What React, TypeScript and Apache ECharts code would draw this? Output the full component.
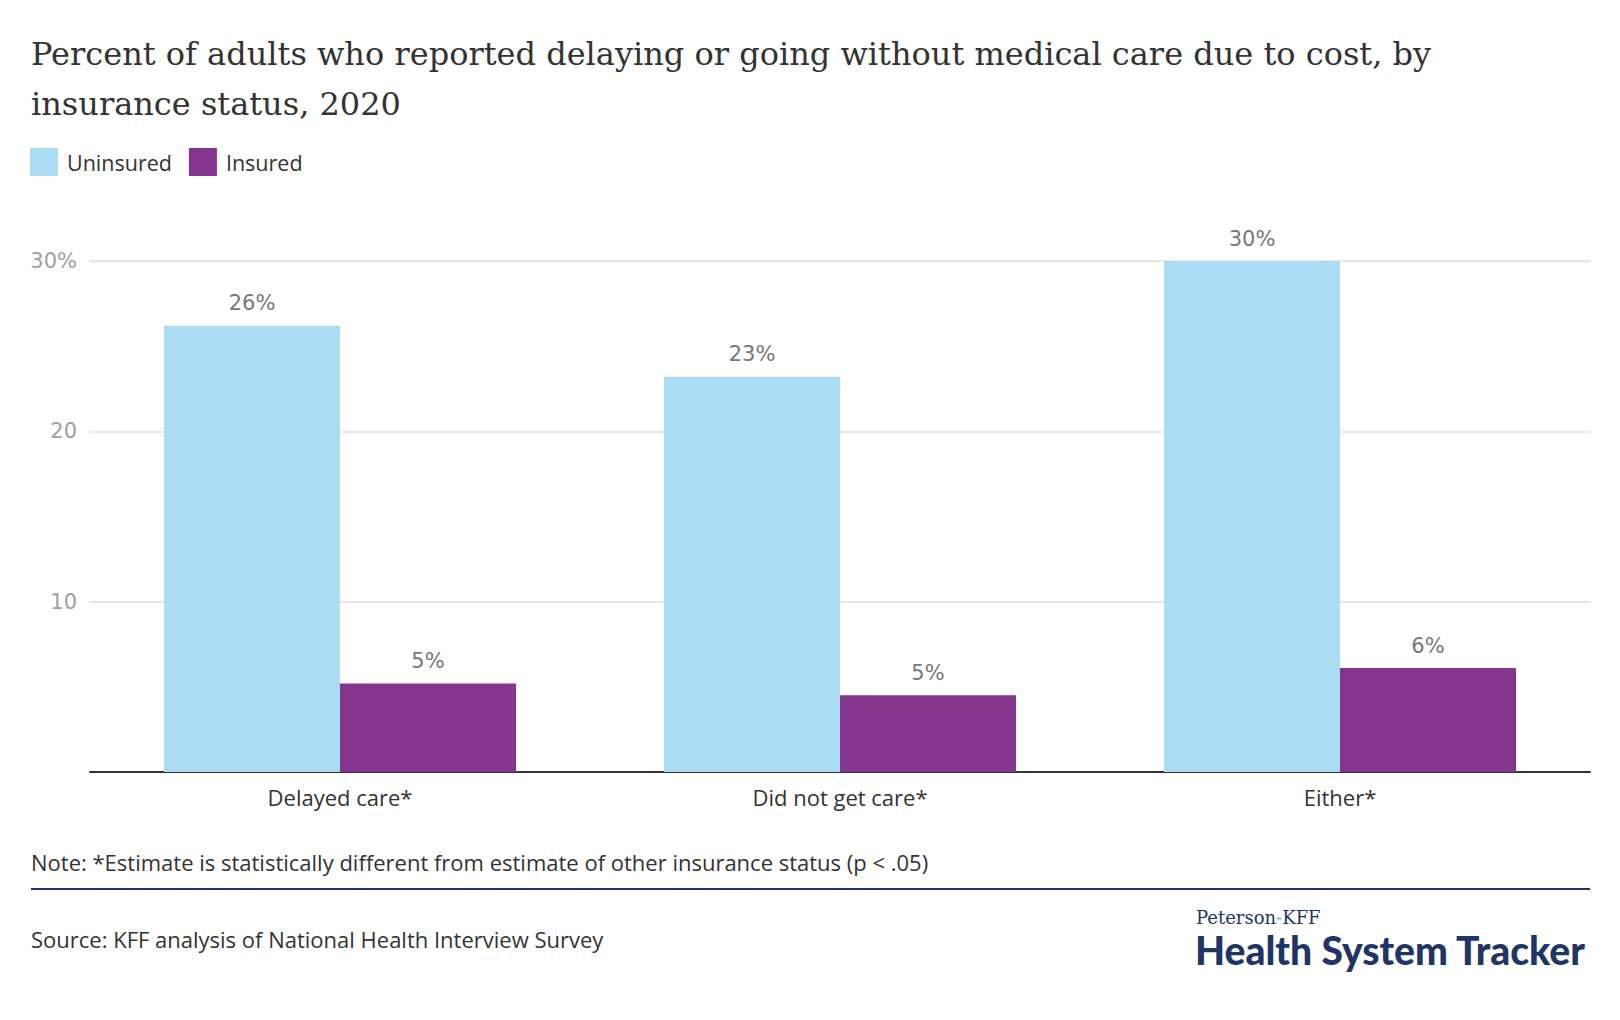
import React, { useEffect, useRef } from "react";
import * as echarts from "echarts";

const categories = ["Delayed care*", "Did not get care*", "Either*"];
const seriesNames = ["Uninsured", "Insured"];
const uninsured = [26.2, 23.2, 30.0];
const insured = [5.2, 4.5, 6.1];
const yTicks = [0, 10, 20, 30];

const titleText =
  "Percent of adults who reported delaying or going without medical care due to cost, by\ninsurance status, 2020";
const noteText =
  "Note: *Estimate is statistically different from estimate of other insurance status (p < .05)";
const sourceText = "Source: KFF analysis of National Health Interview Survey";

const BLUE = "#abdcf4";
const PURPLE = "#84368f";
const NAVY = "#1f3566";

export default function App() {
  const ref = useRef<HTMLDivElement>(null);

  useEffect(() => {
    if (!ref.current) return;
    const chart = echarts.init(ref.current, null, { renderer: "svg" });
    const sans = "'Open Sans', Lato, sans-serif";
    const wide = "'DejaVu Sans', 'Open Sans', sans-serif";
    const labelStyle = {
      show: true,
      position: "top" as const,
      distance: 12,
      color: "#777777",
      fontSize: 21,
      fontFamily: wide,
      formatter: (p: any) => Math.round(p.value) + "%",
    };
    chart.setOption({
      animation: false,
      backgroundColor: "#ffffff",
      title: {
        text: titleText,
        left: 26,
        top: 24,
        textStyle: {
          fontFamily: "'DejaVu Serif', serif",
          fontSize: 32,
          fontWeight: "normal",
          color: "#333333",
          lineHeight: 50,
        },
      },
      legend: {
        data: seriesNames,
        left: 25,
        top: 143,
        icon: "rect",
        itemWidth: 28,
        itemHeight: 28,
        itemGap: 17,
        textStyle: {
          fontFamily: sans,
          fontSize: 21.5,
          color: "#333333",
          padding: [0, 0, 0, 4],
        },
      },
      grid: { left: 90, right: 30, top: 261, bottom: 248, containLabel: false },
      xAxis: {
        type: "category",
        data: categories,
        axisLine: { show: true, lineStyle: { color: "#333333", width: 2 } },
        axisTick: { show: false },
        axisLabel: {
          margin: 14,
          fontFamily: sans,
          fontSize: 22,
          color: "#333333",
        },
      },
      yAxis: {
        type: "value",
        min: yTicks[0],
        max: yTicks[yTicks.length - 1],
        interval: 10,
        axisLine: { show: false },
        axisTick: { show: false },
        splitLine: { lineStyle: { color: "#e6e6e6", width: 2 } },
        axisLabel: {
          margin: 13,
          fontFamily: wide,
          fontSize: 21,
          color: "#a0a0a0",
          formatter: (v: number) =>
            v === 0 ? "" : v === yTicks[yTicks.length - 1] ? v + "%" : String(v),
        },
      },
      series: [
        {
          name: seriesNames[0],
          type: "bar",
          data: uninsured,
          barWidth: "35.2%",
          barGap: "0%",
          itemStyle: { color: BLUE },
          label: labelStyle,
        },
        {
          name: seriesNames[1],
          type: "bar",
          data: insured,
          barWidth: "35.2%",
          barGap: "0%",
          itemStyle: { color: PURPLE },
          label: labelStyle,
        },
      ],
      graphic: [
        {
          type: "text",
          left: 31,
          top: 851,
          style: {
            text: noteText,
            fontFamily: sans,
            fontSize: 22,
            fill: "#333333",
          },
        },
        {
          type: "line",
          shape: { x1: 31, y1: 889, x2: 1590, y2: 889 },
          style: { stroke: NAVY, lineWidth: 2 },
        },
        {
          type: "text",
          left: 31,
          top: 928,
          style: {
            text: sourceText,
            fontFamily: sans,
            fontSize: 22,
            fill: "#333333",
          },
        },
        {
          type: "text",
          left: 1196,
          top: 908,
          style: {
            text: "{a|Peterson}{g|-}{a|KFF}",
            rich: {
              a: { fontFamily: "'DejaVu Serif', serif", fontSize: 18, fill: NAVY, color: NAVY },
              g: { fontFamily: "'DejaVu Serif', serif", fontSize: 18, fill: "#5cb85c", color: "#5cb85c" },
            },
          },
        },
        {
          type: "text",
          left: 1195,
          top: 930,
          style: {
            text: "Health System Tracker",
            fontFamily: "Lato, sans-serif",
            fontSize: 39,
            fontWeight: 900,
            fill: NAVY,
          },
        },
      ],
    });
    return () => chart.dispose();
  }, []);

  return (
    <div
      ref={ref}
      style={{ position: "fixed", left: 0, top: 0, width: 1620, height: 1020, background: "#fff" }}
    />
  );
}
